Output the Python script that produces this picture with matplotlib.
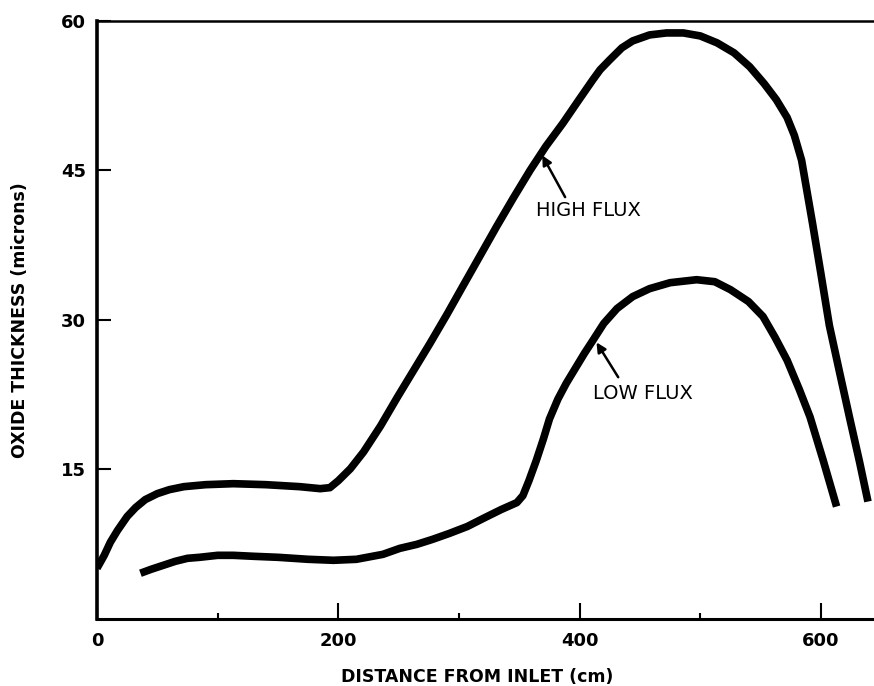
import matplotlib
matplotlib.use("Agg")
import matplotlib.pyplot as plt
from matplotlib.ticker import MultipleLocator, FixedLocator

plt.rcParams['font.family'] = ['DejaVu Sans']

# ---- data ----
x_high = [0, 6, 11, 17, 25, 32, 40, 50, 60, 72, 90, 113, 140, 168, 185, 193, 200, 210,
          221, 235, 249, 262, 276, 290, 303, 317, 331, 345, 359, 372, 386, 399, 411,
          417, 425, 435, 444, 458, 472, 486, 500, 514, 528, 541, 553, 563, 572, 578,
          584, 589, 593, 600, 607, 616, 624, 632, 639]
y_high = [5.0, 6.3, 7.6, 8.8, 10.2, 11.1, 11.9, 12.5, 12.9, 13.2, 13.4, 13.5, 13.4, 13.2,
          13.0, 13.1, 13.8, 15.0, 16.7, 19.3, 22.2, 24.8, 27.6, 30.5, 33.3, 36.3, 39.3,
          42.2, 45.0, 47.4, 49.7, 52.0, 54.1, 55.1, 56.1, 57.3, 58.0, 58.6, 58.8, 58.8,
          58.5, 57.8, 56.8, 55.4, 53.7, 52.1, 50.3, 48.5, 46.0, 42.5, 39.7, 34.6, 29.4,
          24.4, 20.0, 15.7, 11.7]

x_low = [36, 45, 55, 65, 75, 85, 100, 113, 130, 150, 175, 196, 215, 237, 251, 265, 278,
         292, 307, 320, 335, 348, 353, 358, 364, 370, 375, 382, 389, 397, 404, 411, 420,
         431, 444, 458, 475, 497, 512, 525, 540, 552, 562, 572, 582, 591, 602, 613]
y_low = [4.5, 4.9, 5.3, 5.7, 6.0, 6.1, 6.3, 6.3, 6.2, 6.1, 5.9, 5.8, 5.9, 6.4, 7.0, 7.4,
         7.9, 8.5, 9.2, 10.0, 10.9, 11.6, 12.3, 13.8, 15.8, 18.0, 20.0, 22.0, 23.6, 25.2,
         26.6, 27.9, 29.6, 31.1, 32.3, 33.1, 33.7, 34.0, 33.8, 33.0, 31.8, 30.3, 28.2,
         25.9, 23.0, 20.2, 15.8, 11.2]

x_ticks = [0, 200, 400, 600]
x_minor = [100, 300, 500]
y_ticks = [15, 30, 45, 60]

labels = ["HIGH FLUX", "LOW FLUX"]
label_pos = [(364, 41.0), (411, 22.6)]
arrow_tail = [(388, 42.3), (432, 24.2)]
arrow_tip = [(369, 46.5), (414, 27.7)]

# ---- figure ----
fig = plt.figure(figsize=(8.74, 6.86), dpi=100)
ax = fig.add_axes([97/874, 1 - 619/686, 1 - 97/874, (619 - 21)/686])

ax.plot(x_high, y_high, color='black', lw=5.5, solid_capstyle='butt', solid_joinstyle='round')
ax.plot(x_low, y_low, color='black', lw=5.5, solid_capstyle='butt', solid_joinstyle='round')

for lab, (tx, ty), (ax0, ay0), (ax1, ay1) in zip(labels, label_pos, arrow_tail, arrow_tip):
    ax.text(tx, ty, lab, fontsize=14, ha='left', va='center', color='black')
    ax.annotate('', xy=(ax1, ay1), xytext=(ax0, ay0),
                arrowprops=dict(arrowstyle='-|>', lw=1.8, color='black', mutation_scale=14,
                                shrinkA=0, shrinkB=0))

ax.set_xlim(0, 644)
ax.set_ylim(-0.1, 60)

ax.spines['right'].set_visible(False)
ax.spines['left'].set_linewidth(2.6)
ax.spines['bottom'].set_linewidth(2.2)
ax.spines['top'].set_linewidth(1.8)

ax.xaxis.set_major_locator(FixedLocator(x_ticks))
ax.xaxis.set_minor_locator(FixedLocator(x_minor))
ax.yaxis.set_major_locator(FixedLocator(y_ticks))
ax.set_xticklabels([str(v) for v in x_ticks])
ax.set_yticklabels([str(v) for v in y_ticks])

ax.tick_params(axis='x', which='major', direction='in', length=11.5, width=1.5, pad=9,
               labelsize=13, top=False)
ax.tick_params(axis='x', which='minor', direction='in', length=4.5, width=1.5, top=False)
ax.tick_params(axis='y', which='major', direction='in', length=10, width=1.5, pad=8,
               labelsize=13, right=False)
for t in ax.get_xticklabels() + ax.get_yticklabels():
    t.set_fontweight('bold')

fig.text(477/874, 1 - 677/686, "DISTANCE FROM INLET (cm)", ha='center', va='center',
         fontsize=12.5, fontweight='bold')
fig.text(20/874, 1 - 320/686, "OXIDE THICKNESS (microns)", ha='center', va='center',
         rotation=90, fontsize=12.5, fontweight='bold')

fig.savefig("out.png", dpi=100, facecolor='white')
